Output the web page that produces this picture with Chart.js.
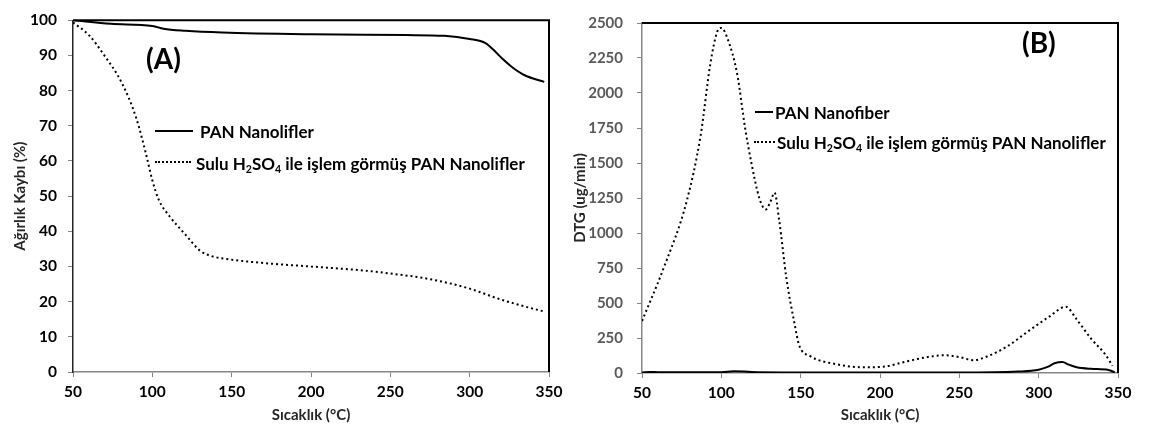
<!DOCTYPE html>
<html>
<head>
<meta charset="utf-8">
<script src="https://cdn.jsdelivr.net/npm/chart.js@4"></script>
<style>
  body { margin: 0; background: #fff; font-family: Lato, "Open Sans", sans-serif; }
  .wrap { position: absolute; top: 0; height: 437px; }
  .lbl { position: absolute; font-weight: bold; color: #000; white-space: nowrap; line-height: 1; transform: translateY(-50%); }
  .leg { font-size: 17px; }
  .big { font-size: 28px; }
  sub { font-size: 0.62em; vertical-align: -0.3em; line-height: 0; }
  .solid { position: absolute; height: 0; border-top: 2px solid #000; }
  .dots { position: absolute; height: 0; border-top: 2px dotted #000; }
</style>
</head>
<body>
<div class="wrap" style="left:0; width:576px"><canvas id="chartA" width="576" height="437"></canvas></div>
<div class="wrap" style="left:570px; width:582px"><canvas id="chartB" width="582" height="437"></canvas></div>

<div class="lbl big" style="left:146px; top:58px">(A)</div>
<div class="solid" style="left:155px; top:130px; width:38px"></div>
<div class="lbl leg" style="left:200px; top:131px">PAN Nanolifler</div>
<div class="dots" style="left:155px; top:161px; width:36px"></div>
<div class="lbl leg" style="left:196px; top:163px">Sulu H<sub>2</sub>SO<sub>4</sub> ile işlem görmüş PAN Nanolifler</div>

<div class="lbl big" style="left:1022px; top:42px">(B)</div>
<div class="solid" style="left:755px; top:111px; width:18px"></div>
<div class="lbl leg" style="left:775px; top:112px">PAN Nanofiber</div>
<div class="dots" style="left:754px; top:141px; width:21px"></div>
<div class="lbl leg" style="left:777px; top:142px">Sulu H<sub>2</sub>SO<sub>4</sub> ile işlem görmüş PAN Nanolifler</div>

<script>
// (A) TGA - weight loss
var tempA_pan = [50, 74, 100, 107, 121, 144, 200, 260, 284, 300, 310, 315, 321, 327, 335, 347];
var wtA_pan = [100, 99, 98.4, 97.6, 97, 96.5, 96, 95.8, 95.6, 94.7, 93.5, 91.6, 88.9, 86.6, 84.3, 82.5];

var tempA_acid = [50, 60, 69, 81, 90, 96, 100, 104, 111, 121, 130, 137, 149, 175, 200, 237, 250, 275, 300, 319, 335, 346];
var wtA_acid = [99.4, 95.8, 90.5, 82, 72, 62, 54.5, 49, 44.2, 39, 34.5, 33, 32, 30.8, 30, 28.7, 28, 26.4, 23.7, 20.7, 18.6, 17.3];

// (B) DTG
var tempB_pan = [50, 55, 60, 80, 100, 108, 119, 140, 200, 250, 287, 300, 306, 310, 315, 319, 324, 333, 344, 348];
var dtgB_pan = [3, 8, 6, 5, 6, 13, 7, 4, 3, 3, 10, 23, 45, 70, 78, 60, 41, 30, 22, 4];

var tempB_acid = [50, 64, 78, 87, 93, 97.5, 100, 104, 110, 115, 119, 124, 128, 131, 133.5, 136.5, 141, 146, 149, 156, 172, 190, 202, 218, 230, 241, 250, 259, 268, 280, 294, 307, 317, 324, 333, 342, 346.5];
var dtgB_acid = [371, 760, 1220, 1700, 2203, 2440, 2465, 2385, 2135, 1748, 1498, 1247, 1168, 1225, 1288, 1088, 678, 360, 200, 121, 64, 41, 45, 86, 114, 127, 114, 91, 121, 189, 303, 405, 473, 382, 246, 132, 52];

var xTicks = [50, 100, 150, 200, 250, 300, 350];

function toPoints(xs, ys) {
    return xs.map(function (x, i) { return { x: x, y: ys[i] }; });
}

var fontName = 'Lato, "Open Sans", sans-serif';

// black top/right frame of the plot area
var framePlugin = {
    id: 'frame',
    afterDatasetsDraw: function (chart) {
        var a = chart.chartArea, ctx = chart.ctx;
        ctx.save();
        ctx.strokeStyle = '#000';
        ctx.lineWidth = 2;
        ctx.beginPath();
        ctx.moveTo(a.left, a.top);
        ctx.lineTo(a.right, a.top);
        ctx.lineTo(a.right, a.bottom);
        ctx.stroke();
        ctx.restore();
    }
};

function makeChart(id, opts) {
    var ctx = document.getElementById(id).getContext('2d');
    return new Chart(ctx, {
        type: 'line',
        data: {
            datasets: [{
                data: opts.solid,
                borderColor: '#000',
                borderWidth: 2,
                pointRadius: 0,
                cubicInterpolationMode: 'monotone'
            }, {
                data: opts.dotted,
                borderColor: '#000',
                borderWidth: 2,
                borderDash: [2, 3],
                pointRadius: 0,
                cubicInterpolationMode: 'monotone'
            }]
        },
        options: {
            responsive: false,
            animation: false,
            devicePixelRatio: 1,
            layout: { padding: opts.padding },
            plugins: { legend: { display: false }, tooltip: { enabled: false } },
            scales: {
                x: {
                    type: 'linear',
                    min: 50,
                    max: 350,
                    afterBuildTicks: function (s) { s.ticks = xTicks.map(function (v) { return { value: v }; }); },
                    afterFit: function (s) { s.height = opts.xHeight; },
                    grid: { drawOnChartArea: false, tickLength: 5, color: '#868686' },
                    border: { color: '#868686', width: 1.5 },
                    ticks: { padding: 6, color: '#000', font: { family: fontName, size: 15.5, weight: 'bold' } },
                    title: {
                        display: true,
                        text: 'Sıcaklık (°C)',
                        color: '#262626',
                        padding: { top: 0, bottom: 13 },
                        font: { family: fontName, size: 15, weight: 'bold' }
                    }
                },
                y: {
                    min: 0,
                    max: opts.yMax,
                    afterBuildTicks: function (s) { s.ticks = opts.yTicks.map(function (v) { return { value: v }; }); },
                    afterFit: function (s) { s.width = opts.yWidth; },
                    grid: { drawOnChartArea: false, tickLength: 5, color: '#868686' },
                    border: { color: opts.yBorder, width: 1.5 },
                    ticks: {
                        padding: opts.yPad,
                        color: opts.yTickColor,
                        font: { family: fontName, size: opts.yTickSize, weight: 'bold' },
                        callback: function (v) { return String(v); }
                    },
                    title: {
                        display: true,
                        text: opts.yTitle,
                        color: '#262626',
                        padding: { top: opts.yTitlePad, bottom: 0 },
                        font: { family: fontName, size: 15, weight: 'bold' }
                    }
                }
            }
        },
        plugins: [framePlugin]
    });
}

makeChart('chartA', {
    solid: toPoints(tempA_pan, wtA_pan),
    dotted: toPoints(tempA_acid, wtA_acid),
    padding: { left: 0, right: 27, top: 8, bottom: 0 },
    xHeight: 65,
    yWidth: 73,
    yMax: 100,
    yTicks: [0, 10, 20, 30, 40, 50, 60, 70, 80, 90, 100],
    yBorder: '#262626',
    yPad: 11,
    yTickSize: 15.5,
    yTickColor: '#000',
    yTitle: 'Ağırlık Kaybı (%)',
    yTitlePad: 11
});

makeChart('chartB', {
    solid: toPoints(tempB_pan, dtgB_pan),
    dotted: toPoints(tempB_acid, dtgB_acid),
    padding: { left: 0, right: 34, top: 7, bottom: 0 },
    xHeight: 64,
    yWidth: 72,
    yMax: 2500,
    yTicks: [0, 250, 500, 750, 1000, 1250, 1500, 1750, 2000, 2250, 2500],
    yBorder: '#868686',
    yPad: 14,
    yTickSize: 15,
    yTickColor: '#595959',
    yTitle: 'DTG (ug/min)',
    yTitlePad: 1
});
</script>
</body>
</html>
